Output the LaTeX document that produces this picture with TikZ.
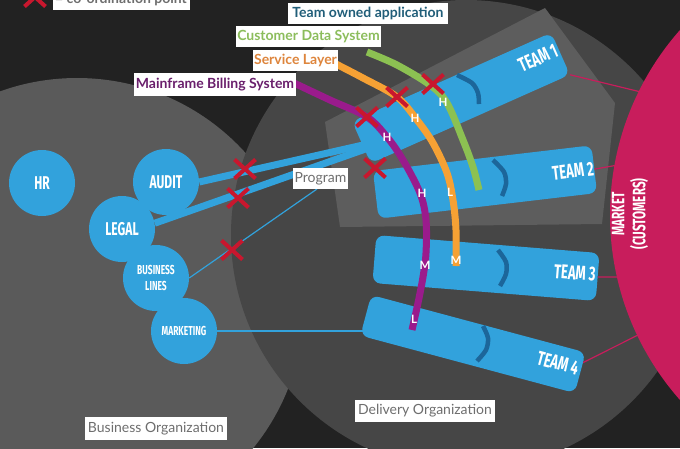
\documentclass[tikz,border=0pt]{standalone}
\usepackage{fontspec}
\setmainfont{Lato}
\newfontfamily\condfont[FakeStretch=0.65]{Fira Sans}
\usetikzlibrary{shapes.misc,calc}
\definecolor{bgdark}{HTML}{222222}
\definecolor{bizgray}{HTML}{5A5A5A}
\definecolor{delgray}{HTML}{464646}
\definecolor{polygray}{HTML}{5D5D5D}
\definecolor{tblue}{HTML}{32A2DC}
\definecolor{nblue}{HTML}{1C669A}
\definecolor{mag}{HTML}{C81D5C}
\definecolor{xred}{HTML}{C8172E}
\definecolor{apppurple}{HTML}{9A1B8C}
\definecolor{apporange}{HTML}{F6A134}
\definecolor{appgreen}{HTML}{8CC152}
\definecolor{ttteal}{HTML}{215E79}
\definecolor{txgreen}{HTML}{8CBD5C}
\definecolor{txorange}{HTML}{DE853C}
\definecolor{txpurple}{HTML}{6A1F6C}
\definecolor{txgray}{HTML}{6E6E6E}
\tikzset{
  unit/.style={circle, fill=tblue, minimum size=66pt, inner sep=0pt, text=white, align=center,
    font=\condfont\bfseries\fontsize{18.5}{20}\selectfont},
  smallunit/.style={unit, font=\condfont\bfseries\fontsize{13}{16}\selectfont},
  teambox/.style={rectangle, rounded corners=8pt, fill=tblue, inner sep=0pt},
  teamlbl/.style={text=white, inner sep=0pt, font=\condfont\bfseries\fontsize{20}{22}\selectfont},
  tag/.style={fill=white, inner sep=0pt, minimum height=21pt, font=\bfseries\fontsize{14}{16}\selectfont},
  orgtag/.style={fill=white, inner sep=0pt, minimum height=22pt, text=txgray, font=\fontsize{14}{16}\selectfont},
  xmark/.style={cross out, draw=xred, line width=4pt, minimum width=17pt, minimum height=15pt, inner sep=0pt},
  letter/.style={text=white, inner sep=0pt, font=\bfseries\fontsize{11.5}{12}\selectfont},
  appline/.style={line width=7pt},
  bigline/.style={line width=7pt, draw=tblue},
  thinline/.style={line width=1.2pt, draw=tblue},
  mline/.style={line width=1.2pt, draw=mag},
  notch/.style={line width=4.5pt, draw=nblue},
}
\begin{document}
\begin{tikzpicture}[x=1pt,y=-1pt]
\useasboundingbox (0,0) rectangle (680,448);
\clip (0,0) rectangle (680,448);
\fill[bgdark] (0,0) rectangle (680,448);
% organisations
\fill[bizgray] (77,305) circle (227pt);
\fill[delgray] (466,235) circle (235pt);
\fill[polygray] (325,122) -- (545,8) -- (615,103) -- (602,224) -- (340,227) -- cycle;

% teams
\node[teambox, minimum width=218pt, minimum height=46pt, rotate=24] (t1) at (461,98) {};
\node[teambox, minimum width=220pt, minimum height=48pt, rotate=6.7] (t2) at (485,182) {};
\node[teambox, minimum width=224pt, minimum height=48pt, rotate=-4.6] (t3) at (486,268) {};
\node[teambox, minimum width=222pt, minimum height=42pt, rotate=-15] (t4) at (473,344) {};

\node[teamlbl, rotate=24] (t1l) at (538,58) {TEAM 1};
\node[teamlbl, rotate=6.7] (t2l) at (573,171) {TEAM 2};
\node[teamlbl, rotate=-4.6] (t3l) at (575,273) {TEAM 3};
\node[teamlbl, rotate=-15] (t4l) at (558,363) {TEAM 4};

% business units
\node[unit] (hr) at (42,183) {HR};
\node[unit] (audit) at (166,182) {AUDIT};
\node[unit] (legal) at (122,229) {LEGAL};
\node[smallunit] (bl) at (156,278) {BUSINESS\\LINES};
\node[smallunit] (mkt) at (184,331) {MARKETING};

% connectors
\coordinate (j1) at (372,143);
\coordinate (j2) at (374,146);
\coordinate (m4) at (364,331);
\coordinate (pg) at (317,189);
\draw[bigline] (audit.east) -- (j1);
\draw[bigline] (legal.10) -- (j2);
\draw[thinline] (bl.east) -- (pg);
\draw[thinline] (mkt.east) -- (m4);

% program tag
\node[orgtag, minimum width=55pt, minimum height=21pt] (prog) at (320.5,178.5) {Program};

% market
\coordinate (mk1) at (641,92);
\coordinate (mk2) at (618,165);
\coordinate (mk3) at (620,277);
\coordinate (mk4) at (640,334);
\draw[mline] (t1.south east) -- (mk1);
\draw[mline] (t2.east) -- (mk2);
\draw[mline] (t3.east) -- (mk3);
\draw[mline] ($(t4.north east)!0.25!(t4.south east)$) -- (mk4);
\node[circle, fill=mag, minimum size=559pt, inner sep=0pt] (market) at (889.5,215) {};
\node[rotate=90, text=white, align=center, inner sep=0pt,
  font=\condfont\bfseries\fontsize{18}{21}\selectfont] (mktlbl) at (630,214) {MARKET\\(CUSTOMERS)};

% notches
\draw[notch] plot[smooth] coordinates {(457,75) (472,83) (478,93) (479,104)};
\draw[notch] plot[smooth] coordinates {(493,160) (504,172) (506,184) (502,196)};
\draw[notch] plot[smooth] coordinates {(498,250) (506,262) (506,274) (500,286)};
\draw[notch] plot[smooth] coordinates {(483,326) (488,338) (486,350) (477,361)};

% applications
\draw[appline, apppurple] plot[smooth, tension=0.55] coordinates {(294,83) (330,100) (367,117) (387,137) (403,160) (420,193) (426,220) (426,253) (423,277) (418,303) (412,330)};
\draw[appline, apporange] plot[smooth, tension=0.55] coordinates {(336,64) (363,78) (397,97) (417,120) (433,143) (447,173) (453,200) (456,230) (456,266)};
\draw[appline, appgreen] plot[smooth, tension=0.55] coordinates {(367,52) (397,65) (430,85) (447,103) (463,140) (473,167) (479,190)};

% letters
\node[letter] (p1) at (387,137) {H};
\node[letter] (p2) at (422,193) {H};
\node[letter] (p3) at (425,265) {M};
\node[letter] (p4) at (414,319) {L};
\node[letter] (o1) at (415,118) {H};
\node[letter] (o2) at (450,192) {L};
\node[letter] (o3) at (456,260) {M};
\node[letter] (g1) at (443,102) {H};

% coordination points
\node[xmark] (x1) at (245,169) {};
\node[xmark] (x2) at (238,198) {};
\node[xmark] (x3) at (232,250) {};
\node[xmark] (x4) at (367,117) {};
\node[xmark] (x5) at (397,97) {};
\node[xmark] (x6) at (433,84) {};
\node[xmark] (x7) at (375,168) {};
\node[xmark] (x0) at (35,-3) {};

% tags
\node[tag, text=txgray, minimum width=137pt] (legend) at (121,-1) {= co-ordination point};
\node[tag, text=ttteal, minimum width=160pt] (lteam) at (368,13.5) {Team owned application};
\node[tag, text=txgreen, minimum width=145pt] (lcds) at (308.5,36.5) {Customer Data System};
\node[tag, text=txorange, minimum width=85pt] (lsl) at (295.5,60) {Service Layer};
\node[tag, text=txpurple, minimum width=162pt, minimum height=23pt] (lmbs) at (215,84.5) {Mainframe Billing System};
\node[orgtag, minimum width=142pt, minimum height=23pt] (lbiz) at (156,428.5) {Business Organization};
\node[orgtag, minimum width=140pt] (ldel) at (425,411) {Delivery Organization};
\end{tikzpicture}
\end{document}
